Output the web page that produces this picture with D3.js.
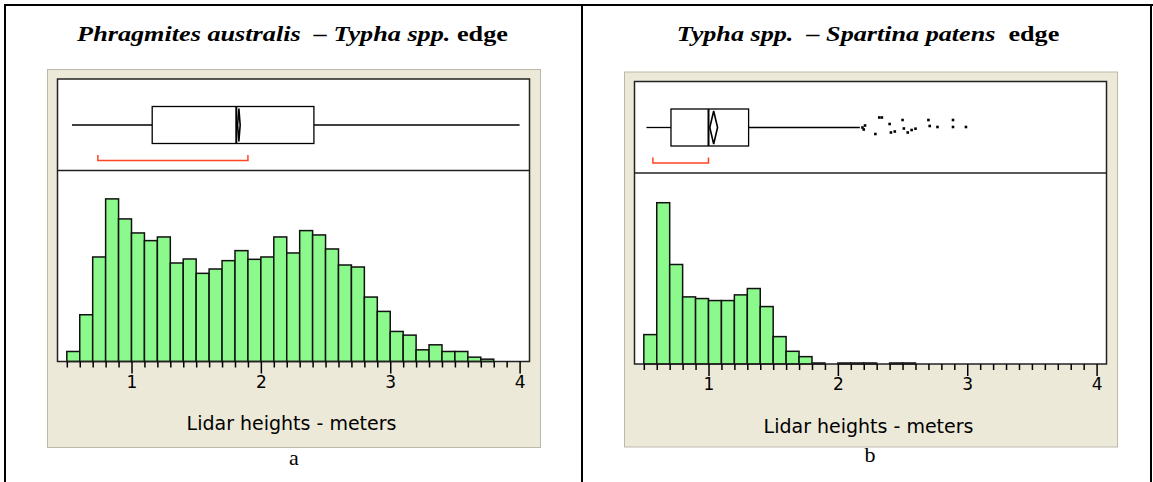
<!DOCTYPE html>
<html>
<head>
<meta charset="utf-8">
<script src="https://cdn.jsdelivr.net/npm/d3@7"></script>
<style>
body { margin: 0; background: #fff; }
.title { font-family: "Liberation Serif", "Times New Roman", serif; font-size: 22px; font-weight: bold; white-space: pre; }
.letter { font-family: "Liberation Serif", "Times New Roman", serif; font-size: 22px; }
.axis text { font-family: "DejaVu Sans", sans-serif; font-size: 17px; fill: #000; }
.axis line { stroke: #000; stroke-width: 1.5; }
.xlabel { font-family: "DejaVu Sans", sans-serif; font-size: 19px; }
</style>
</head>
<body>
<div id="viz"></div>
<script>
// lower edges of the 0.1 m histogram bins
var edgesA = [0.5, 0.6, 0.7, 0.8, 0.9, 1.0, 1.1, 1.2, 1.3, 1.4, 1.5, 1.6, 1.7, 1.8, 1.9, 2.0, 2.1,
              2.2, 2.3, 2.4, 2.5, 2.6, 2.7, 2.8, 2.9, 3.0, 3.1, 3.2, 3.3, 3.4, 3.5, 3.6, 3.7];
var countsA = [30, 140, 313, 487, 427, 385, 362, 373, 295, 307, 264, 277, 302, 332, 306, 313, 373,
               325, 392, 379, 337, 289, 283, 193, 150, 90, 79, 35, 50, 30, 30, 13, 7];

var edgesB = [0.5, 0.6, 0.7, 0.8, 0.9, 1.0, 1.1, 1.2, 1.3, 1.4, 1.5, 1.6, 1.7, 1.8, 1.9, 2.0, 2.1,
              2.2, 2.3, 2.4, 2.5];
var countsB = [88, 483, 298, 201, 196, 190, 190, 207, 226, 172, 82, 38, 22, 3, 0, 3, 3, 3, 0, 3, 3];

// min, q1, median, q3, upper whisker
var boxA = [0.54, 1.16, 1.81, 2.41, 4.0];
var boxB = [0.52, 0.71, 1.00, 1.31, 2.17];
// mean and half width of its diamond
var meanA = [1.83, 0.01];
var meanB = [1.04, 0.03];
// shortest half bracket
var shortestA = [0.74, 1.90];
var shortestB = [0.57, 1.00];

// outliers of panel b, with their jitter lane (-1 .. 1)
var outliersB = [2.19, 2.21, 2.20, 2.29, 2.32, 2.34, 2.40, 2.41, 2.44, 2.50, 2.51, 2.54, 2.57, 2.60,
                 2.70, 2.71, 2.77, 2.89, 2.89, 2.99];
var jitterB = [0, -0.2, 0.2, 0.65, -1, -1, -0.35, 0.5, 0.4, -0.75, 0.1, 0.5, 0.25, 0.12,
               -0.75, -0.15, -0.05, -0.75, -0.05, -0.05];

var titleA = [["Phragmites australis", "italic"], ["  – ", "italic"], ["Typha spp.", "italic"], [" edge", "normal"]];
var titleB = [["Typha spp.", "italic"], ["  – ", "italic"], ["Spartina patens", "italic"], ["  edge", "normal"]];

var majorTicks = [1, 2, 3, 4];
var axisTitle = "Lidar heights - meters";

var W = 1153, H = 482;
var svg = d3.select("#viz").append("svg")
    .attr("width", W)
    .attr("height", H);

svg.append("rect").attr("width", W).attr("height", H).attr("fill", "#fff");

// table borders
var border = svg.append("g").attr("stroke", "#000").attr("stroke-width", 2).attr("fill", "none");
border.append("line").attr("x1", 5).attr("x2", W).attr("y1", 5).attr("y2", 5);
border.append("line").attr("x1", 5).attr("x2", 5).attr("y1", 4).attr("y2", H);
border.append("line").attr("x1", 582).attr("x2", 582).attr("y1", 4).attr("y2", H);
border.append("line").attr("x1", 1151).attr("x2", 1151).attr("y1", 4).attr("y2", H);

// titles are set a little wide, like the scanned original
function drawTitle(parts, cx, target) {
  var t = svg.append("text")
      .attr("class", "title")
      .attr("text-anchor", "middle");
  parts.forEach(function(p) {
    t.append("tspan").style("font-style", p[1]).text(p[0]);
  });
  var sx = target / t.node().getComputedTextLength();
  t.attr("transform", "translate(" + cx + ",41) scale(" + sx + ",1)");
}

drawTitle(titleA, 292.5, 431);
drawTitle(titleB, 868, 383);

svg.append("text").attr("class", "letter").attr("x", 294).attr("y", 465).attr("text-anchor", "middle").text("a");
svg.append("text").attr("class", "letter").attr("x", 870).attr("y", 462).attr("text-anchor", "middle").text("b");

function panel(ox, oy, gh, edges, counts, box, mean, shortest, outliers, jitter) {
  var g = svg.append("g").attr("transform", "translate(" + ox + "," + oy + ")");

  var left = 10.5, right = 482.5, top = 10, sep = 101.5, base = 292.5;

  var x = d3.scaleLinear().domain([1, 4]).range([84.5, 472.6]);
  var y = d3.scaleLinear().domain([0, 572]).range([base, sep]);

  g.append("rect")
      .attr("x", 0.5).attr("y", 0.5)
      .attr("width", 493).attr("height", gh)
      .attr("fill", "#ece9d8")
      .attr("stroke", "#bcb9ab");

  g.append("rect")
      .attr("x", left).attr("y", top)
      .attr("width", right - left).attr("height", base - top)
      .attr("fill", "#fff");

  // histogram
  g.selectAll(".bar")
      .data(edges.map(function(e, i) { return {x0: e, n: counts[i]}; })
                 .filter(function(d) { return d.n > 0; }))
    .enter().append("rect")
      .attr("class", "bar")
      .attr("x", function(d) { return x(d.x0); })
      .attr("y", function(d) { return y(d.n); })
      .attr("width", function(d) { return x(d.x0 + 0.1) - x(d.x0); })
      .attr("height", function(d) { return base - y(d.n); })
      .attr("fill", "#8cf98c")
      .attr("stroke", "#111")
      .attr("stroke-width", 1.5);

  // frame
  g.append("rect")
      .attr("x", left).attr("y", top)
      .attr("width", right - left).attr("height", base - top)
      .attr("fill", "none")
      .attr("stroke", "#222")
      .attr("stroke-width", 1.5);
  g.append("line")
      .attr("x1", left).attr("x2", right)
      .attr("y1", sep).attr("y2", sep)
      .attr("stroke", "#222").attr("stroke-width", 1.5);

  // box plot
  var cy = 56, by0 = 37.5, by1 = 74.5;
  var bp = g.append("g").attr("stroke", "#000").attr("fill", "none");
  bp.append("line").attr("x1", x(box[0])).attr("x2", x(box[1])).attr("y1", cy).attr("y2", cy).attr("stroke-width", 1.3);
  bp.append("line").attr("x1", x(box[3])).attr("x2", x(box[4])).attr("y1", cy).attr("y2", cy).attr("stroke-width", 1.3);
  bp.append("rect")
      .attr("x", x(box[1])).attr("y", by0)
      .attr("width", x(box[3]) - x(box[1])).attr("height", by1 - by0)
      .attr("fill", "#fff")
      .attr("stroke-width", 1.3);
  bp.append("line").attr("x1", x(box[2])).attr("x2", x(box[2])).attr("y1", by0).attr("y2", by1).attr("stroke-width", 2);

  var diamond = [[mean[0] - mean[1], cy], [mean[0], by0 + 2], [mean[0] + mean[1], cy], [mean[0], by1 - 2]];
  bp.append("path")
      .attr("d", d3.line().x(function(d) { return x(d[0]); }).y(function(d) { return d[1]; })(diamond) + "Z")
      .attr("stroke-width", 1.6);

  // shortest half
  g.append("path")
      .attr("d", "M" + x(shortest[0]) + ",86V91.5H" + x(shortest[1]) + "V86")
      .attr("fill", "none")
      .attr("stroke", "#ff4422")
      .attr("stroke-width", 1.5);

  if (outliers) {
    var jy = d3.scaleLinear().domain([-1, 1]).range([cy - 10, cy + 10]);
    g.selectAll(".out")
        .data(outliers)
      .enter().append("rect")
        .attr("class", "out")
        .attr("x", function(d) { return x(d) - 1.3; })
        .attr("y", function(d, i) { return jy(jitter[i]) - 1.3; })
        .attr("width", 2.6)
        .attr("height", 2.6)
        .attr("fill", "#000");
  }

  // axis
  var minor = d3.range(5, 41).map(function(d) { return d / 10; })
      .filter(function(d) { return majorTicks.indexOf(d) < 0; });
  g.append("g")
      .attr("class", "axis")
      .attr("transform", "translate(0," + base + ")")
      .call(d3.axisBottom(x).tickValues(minor).tickSize(6).tickFormat(""))
      .call(function(s) { s.select(".domain").remove(); });
  g.append("g")
      .attr("class", "axis")
      .attr("transform", "translate(0," + base + ")")
      .call(d3.axisBottom(x).tickValues(majorTicks).tickSize(12).tickPadding(2).tickFormat(d3.format("d")))
      .call(function(s) { s.select(".domain").remove(); });

  g.append("text")
      .attr("class", "xlabel")
      .attr("x", (left + right) / 2 - 2)
      .attr("y", 361)
      .attr("text-anchor", "middle")
      .text(axisTitle);
}

panel(47, 69, 378, edgesA, countsA, boxA, meanA, shortestA, null, null);
panel(624, 71.5, 375, edgesB, countsB, boxB, meanB, shortestB, outliersB, jitterB);
</script>
</body>
</html>
